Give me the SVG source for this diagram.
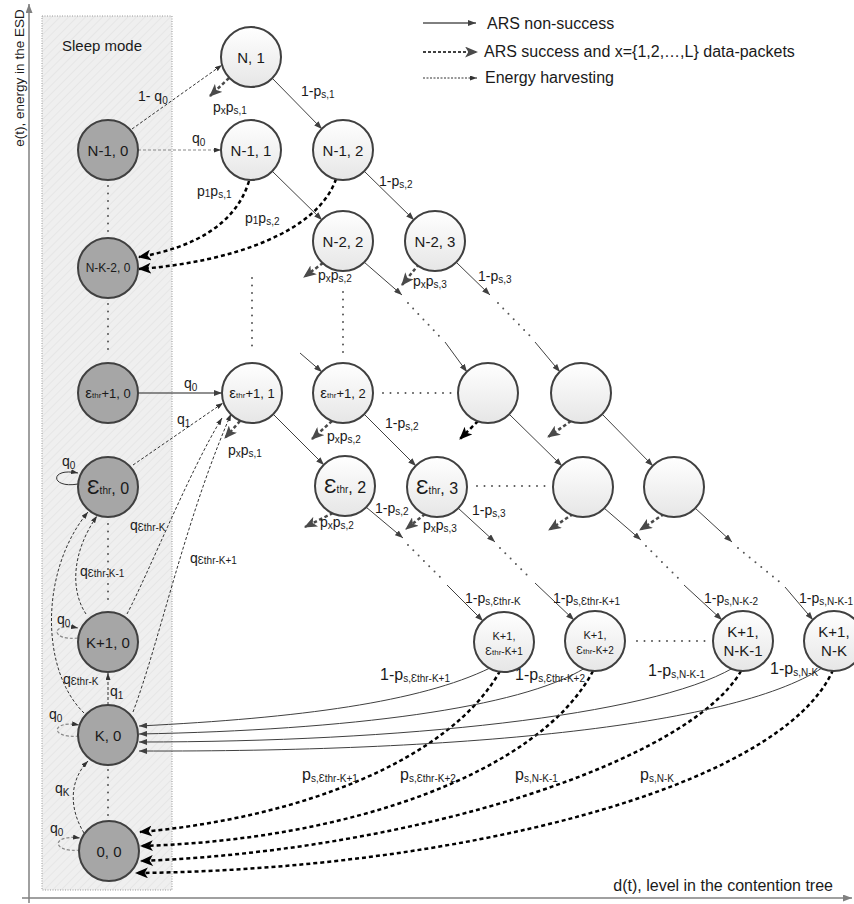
<svg xmlns="http://www.w3.org/2000/svg" width="854" height="904" viewBox="0 0 854 904">
<defs>
<linearGradient id="gw" x1="0" y1="0" x2="0" y2="1"><stop offset="0" stop-color="#ffffff"/><stop offset="1" stop-color="#e6e6e6"/></linearGradient>
<pattern id="hatch" width="6" height="6" patternUnits="userSpaceOnUse" patternTransform="rotate(45)"><rect width="6" height="6" fill="#efefef"/><line x1="0" y1="0" x2="0" y2="6" stroke="#e6e6e6" stroke-width="2"/></pattern>
<marker id="a" viewBox="0 0 8 6" refX="8" refY="3" markerWidth="8" markerHeight="6" markerUnits="userSpaceOnUse" orient="auto"><path d="M0,0L8,3L0,6z" fill="#404040"/></marker>
<marker id="ab" viewBox="0 0 12 10" refX="11" refY="5" markerWidth="13" markerHeight="11" markerUnits="userSpaceOnUse" orient="auto"><path d="M0,0L12,5L0,10L3,5z" fill="#4a4a4a"/></marker>
<marker id="ak" viewBox="0 0 12 10" refX="11" refY="5" markerWidth="13" markerHeight="11" markerUnits="userSpaceOnUse" orient="auto"><path d="M0,0L12,5L0,10L3,5z" fill="#000"/></marker>
<marker id="ae" viewBox="0 0 7 5" refX="7" refY="2.5" markerWidth="7" markerHeight="5" markerUnits="userSpaceOnUse" orient="auto"><path d="M0,0L7,2.5L0,5z" fill="#333"/></marker>
<marker id="ax" viewBox="0 0 9 7" refX="9" refY="3.5" markerWidth="9" markerHeight="7" markerUnits="userSpaceOnUse" orient="auto"><path d="M0,0L9,3.5L0,7z" fill="#808080"/></marker>
<style>
text{font-family:"Liberation Sans",Arial,sans-serif;fill:#1a1a1a}
.n{stroke:#404040;stroke-width:2}
.g{fill:#a6a6a6}
.w{fill:url(#gw)}
.nt{font-size:15px;text-anchor:middle}
.l{font-size:14px}
.lb{font-size:16px}
.lg{font-size:16px}
.sub{font-size:10px}
.s{stroke:#404040;stroke-width:1;fill:none;marker-end:url(#a)}
.d{stroke:#4a4a4a;stroke-width:2.5;stroke-dasharray:3.5 2.5;fill:none;marker-end:url(#ab)}
.dk{stroke:#000;stroke-width:2.5;stroke-dasharray:4 3;fill:none;marker-end:url(#ak)}
.e{stroke:#333;stroke-width:1;stroke-dasharray:3 2;fill:none;marker-end:url(#ae)}
.eg{stroke:#888;stroke-width:1.2;stroke-dasharray:3 2;fill:none;marker-end:url(#ae)}
.dot{stroke:#555;stroke-width:2;stroke-linecap:round;stroke-dasharray:0 7.5;fill:none}
</style>
</defs>
<rect width="854" height="904" fill="#fff"/>
<!-- sleep mode area -->
<rect x="42" y="16" width="130" height="874" fill="url(#hatch)" stroke="#999" stroke-width="1" stroke-dasharray="1 1.5"/>
<text x="62" y="51" style="font-size:15px">Sleep mode</text>
<!-- axes -->
<g id="axes">
<line x1="29" y1="903" x2="29" y2="4" stroke="#808080" stroke-width="1.5" marker-end="url(#ax)"/>
<line x1="22" y1="898" x2="852" y2="898" stroke="#808080" stroke-width="1.5" marker-end="url(#ax)"/>
<text transform="translate(24,78) rotate(-90)" style="font-size:13.5px;text-anchor:middle">e(t), energy in the ESD</text>
<text x="833" y="891" style="font-size:16px;text-anchor:end">d(t), level in the contention tree</text>
</g>
<!-- legend -->
<g id="legend">
<line x1="423" y1="23" x2="476" y2="23" stroke="#000" stroke-width="1" marker-end="url(#a)"/>
<text class="lg" x="487" y="29">ARS non-success</text>
<line x1="423" y1="52" x2="477" y2="52" stroke="#404040" stroke-width="2" stroke-dasharray="3 2" marker-end="url(#ab)"/>
<text class="lg" x="484" y="57">ARS success and x={1,2,…,L} data-packets</text>
<line x1="423" y1="78" x2="477" y2="78" stroke="#333" stroke-width="1" stroke-dasharray="2 1.5" marker-end="url(#ae)"/>
<text class="lg" x="485" y="83">Energy harvesting</text>
</g>
<!-- connectors -->
<g id="connectors">
<path class="s" d="M272,78L322,129"/>
<path class="s" d="M272,171L322,220"/>
<path class="s" d="M364,171L414,220"/>
<path class="s" d="M364,262L402,295"/>
<path class="s" d="M456,262L490,295"/>
<path class="dot" d="M408,303L440,337"/>
<path class="s" d="M445,342L467,372"/>
<path class="dot" d="M498,303L530,336"/>
<path class="s" d="M535,342L560,372"/>
<path class="s" d="M300,353L322,372"/>
<path class="s" d="M273,414L324,465"/>
<path class="s" d="M364,414L416,466"/>
<path class="s" d="M509,414L562,466"/>
<path class="s" d="M602,414L653,466"/>
<path class="s" d="M366,507L403,538"/>
<path class="s" d="M458,508L495,542"/>
<path class="s" d="M604,508L641,540"/>
<path class="s" d="M695,508L732,542"/>
<path class="dot" d="M408,545L443,580"/>
<path class="s" d="M447,585L483,621"/>
<path class="dot" d="M500,548L531,579"/>
<path class="s" d="M535,583L574,620"/>
<path class="dot" d="M646,546L680,580"/>
<path class="s" d="M684,585L722,620"/>
<path class="dot" d="M738,548L781,583"/>
<path class="s" d="M785,587L813,620"/>
<path class="dot" d="M108,186L108,232"/>
<path class="dot" d="M108,304L108,354"/>
<path class="dot" d="M108,524L108,604"/>
<path class="dot" d="M108,770L108,816"/>
<path class="dot" d="M252,278L252,352"/>
<path class="dot" d="M343,292L343,356"/>
<path class="dot" d="M383,393L452,393"/>
<path class="dot" d="M477,486L547,486"/>
<path class="dot" d="M637,641L707,641"/>
<path class="d" d="M229,78L210,96"/>
<path class="d" d="M323,263L304,277"/>
<path class="d" d="M419,264L402,285"/>
<path class="d" d="M240,421L225,438"/>
<path class="d" d="M332,421L312,439"/>
<path class="dk" d="M478,421L460,439"/>
<path class="d" d="M571,421L548,437"/>
<path class="d" d="M333,513L305,527"/>
<path class="d" d="M425,514L406,529"/>
<path class="d" d="M573,514L549,530"/>
<path class="d" d="M664,514L640,530"/>
<path class="dk" d="M249,181C236,225 192,248 139,257"/>
<path class="dk" d="M336,179C318,232 232,262 139,269"/>
<path class="dk" d="M500,671C450,760 300,818 140,832"/>
<path class="dk" d="M593,671C540,772 350,840 141,846"/>
<path class="dk" d="M741,671C690,760 420,850 141,861"/>
<path class="dk" d="M833,670C780,790 450,870 136,873"/>
<path class="s" d="M490,668C420,702 300,718 139,726"/>
<path class="s" d="M585,668C520,708 350,730 139,734"/>
<path class="s" d="M733,668C650,716 400,742 139,742"/>
<path class="s" d="M822,668C730,728 450,752 139,751"/>
<path class="e" d="M132,129L222,65"/>
<path class="eg" d="M138,150L221,150"/>
<path d="M138,393L222,393" stroke="#222" stroke-width="1.2" fill="none" marker-end="url(#a)"/>
<path class="e" d="M133,465L223,403"/>
<path d="M78,484C50,489 49,467 78,473" stroke="#333" stroke-width="1" fill="none" marker-end="url(#ae)"/>
<path class="eg" d="M78,638C50,641 50,622 78,628"/>
<path class="eg" d="M79,736C50,739 50,720 79,725"/>
<path class="eg" d="M80,850C51,853 51,834 80,838"/>
<path class="e" d="M108,705L108,673"/>
<path class="e" d="M84,833C70,810 68,782 88,761"/>
<path class="e" d="M86,614C70,590 72,552 97,516"/>
<path class="e" d="M84,713C40,670 40,570 88,512"/>
<path class="e" d="M127,614C150,570 190,470 222,418"/>
<path class="e" d="M133,712C160,640 185,520 231,414"/>
</g>
<g id="labels">
<text class="l" x="138" y="101">1- q<tspan class="sub" dy="3">0</tspan></text>
<text class="l" x="192" y="143">q<tspan class="sub" dy="3">0</tspan></text>
<text class="l" x="213" y="112">p<tspan class="sub" dy="2">x</tspan><tspan dy="-2">p</tspan><tspan class="sub" dy="2">s,1</tspan></text>
<text class="l" x="301" y="96">1-p<tspan class="sub" dy="2">s,1</tspan></text>
<text class="l" x="197" y="196">p<tspan class="sub" dy="1">1</tspan><tspan dy="-1">p</tspan><tspan class="sub" dy="2">s,1</tspan></text>
<text class="l" x="245" y="223">p<tspan class="sub" dy="1">1</tspan><tspan dy="-1">p</tspan><tspan class="sub" dy="2">s,2</tspan></text>
<text class="l" x="379" y="186">1-p<tspan class="sub" dy="2">s,2</tspan></text>
<text class="l" x="318" y="280">p<tspan class="sub" dy="2">x</tspan><tspan dy="-2">p</tspan><tspan class="sub" dy="2">s,2</tspan></text>
<text class="l" x="413" y="286">p<tspan class="sub" dy="2">x</tspan><tspan dy="-2">p</tspan><tspan class="sub" dy="2">s,3</tspan></text>
<text class="l" x="478" y="281">1-p<tspan class="sub" dy="2">s,3</tspan></text>
<text class="l" x="184" y="388">q<tspan class="sub" dy="3">0</tspan></text>
<text class="l" x="177" y="424">q<tspan class="sub" dy="3">1</tspan></text>
<text class="l" x="228" y="455">p<tspan class="sub" dy="2">x</tspan><tspan dy="-2">p</tspan><tspan class="sub" dy="2">s,1</tspan></text>
<text class="l" x="327" y="441">p<tspan class="sub" dy="2">x</tspan><tspan dy="-2">p</tspan><tspan class="sub" dy="2">s,2</tspan></text>
<text class="l" x="385" y="428">1-p<tspan class="sub" dy="2">s,2</tspan></text>
<text class="l" x="320" y="527">p<tspan class="sub" dy="2">x</tspan><tspan dy="-2">p</tspan><tspan class="sub" dy="2">s,2</tspan></text>
<text class="l" x="375" y="513">1-p<tspan class="sub" dy="2">s,2</tspan></text>
<text class="l" x="423" y="530">p<tspan class="sub" dy="2">x</tspan><tspan dy="-2">p</tspan><tspan class="sub" dy="2">s,3</tspan></text>
<text class="l" x="472" y="515">1-p<tspan class="sub" dy="2">s,3</tspan></text>
<text class="l" x="62" y="466">q<tspan class="sub" dy="3">0</tspan></text>
<text class="l" x="57" y="624">q<tspan class="sub" dy="3">0</tspan></text>
<text class="l" x="49" y="719">q<tspan class="sub" dy="3">0</tspan></text>
<text class="l" x="50" y="833">q<tspan class="sub" dy="3">0</tspan></text>
<text class="l" x="110" y="696">q<tspan class="sub" dy="3">1</tspan></text>
<text class="l" x="55" y="793">q<tspan class="sub" dy="3">K</tspan></text>
<text class="l" x="130" y="530">q<tspan class="sub" dy="1">Ɛthr-K</tspan></text>
<text class="l" x="190" y="563">q<tspan class="sub" dy="1">Ɛthr-K+1</tspan></text>
<text class="l" x="80" y="576">q<tspan class="sub" dy="1">Ɛthr-K-1</tspan></text>
<text class="l" x="63" y="684">q<tspan class="sub" dy="1">Ɛthr-K</tspan></text>
<text class="l" x="465" y="603">1-p<tspan class="sub" dy="2">s,Ɛthr-K</tspan></text>
<text class="l" x="553" y="603">1-p<tspan class="sub" dy="2">s,Ɛthr-K+1</tspan></text>
<text class="l" x="704" y="603">1-p<tspan class="sub" dy="2">s,N-K-2</tspan></text>
<text class="l" x="799" y="603">1-p<tspan class="sub" dy="2">s,N-K-1</tspan></text>
<text class="lb" x="380" y="680">1-p<tspan class="sub" dy="2">s,Ɛthr-K+1</tspan></text>
<text class="lb" x="515" y="680">1-p<tspan class="sub" dy="2">s,Ɛthr-K+2</tspan></text>
<text class="lb" x="648" y="676">1-p<tspan class="sub" dy="2">s,N-K-1</tspan></text>
<text class="lb" x="770" y="674">1-p<tspan class="sub" dy="2">s,N-K</tspan></text>
<text class="lb" x="302" y="780">p<tspan class="sub" dy="2">s,Ɛthr-K+1</tspan></text>
<text class="lb" x="400" y="780">p<tspan class="sub" dy="2">s,Ɛthr-K+2</tspan></text>
<text class="lb" x="515" y="780">p<tspan class="sub" dy="2">s,N-K-1</tspan></text>
<text class="lb" x="640" y="780">p<tspan class="sub" dy="2">s,N-K</tspan></text>
</g>
<g id="n_N-1_0"><circle class="n g" cx="108" cy="150" r="30"/><text class="nt" x="108" y="156">N-1, 0</text></g>
<g id="n_N-K-2_0"><circle class="n g" cx="108" cy="268" r="30"/><text class="nt" x="108" y="272" style="font-size:12px">N-K-2, 0</text></g>
<g id="n_eps1_0"><circle class="n g" cx="108" cy="393" r="30"/><text class="nt" x="108" y="398"><tspan style="font-size:15px">ε</tspan><tspan style="font-size:8px">thr</tspan><tspan style="font-size:13px">+1, 0</tspan></text></g>
<g id="n_eps_0"><circle class="n g" cx="108" cy="487" r="30"/><text class="nt" x="108" y="494"><tspan style="font-size:21px">Ɛ</tspan><tspan style="font-size:10px">thr</tspan><tspan style="font-size:16px">, 0</tspan></text></g>
<g id="n_K1_0"><circle class="n g" cx="108" cy="642" r="30"/><text class="nt" x="108" y="648">K+1, 0</text></g>
<g id="n_K_0"><circle class="n g" cx="108" cy="735" r="30"/><text class="nt" x="108" y="741">K, 0</text></g>
<g id="n_0_0"><circle class="n g" cx="109" cy="851" r="30"/><text class="nt" x="109" y="857">0, 0</text></g>
<g id="n_N_1"><circle class="n w" cx="251" cy="57" r="30"/><text class="nt" x="251" y="63">N, 1</text></g>
<g id="n_N-1_1"><circle class="n w" cx="251" cy="150" r="30"/><text class="nt" x="251" y="156">N-1, 1</text></g>
<g id="n_N-1_2"><circle class="n w" cx="343" cy="150" r="30"/><text class="nt" x="343" y="156">N-1, 2</text></g>
<g id="n_N-2_2"><circle class="n w" cx="343" cy="241" r="30"/><text class="nt" x="343" y="247">N-2, 2</text></g>
<g id="n_N-2_3"><circle class="n w" cx="435" cy="241" r="30"/><text class="nt" x="435" y="247">N-2, 3</text></g>
<g id="n_eps1_1"><circle class="n w" cx="252" cy="393" r="30"/><text class="nt" x="252" y="398"><tspan style="font-size:15px">ε</tspan><tspan style="font-size:8px">thr</tspan><tspan style="font-size:13px">+1, 1</tspan></text></g>
<g id="n_eps1_2"><circle class="n w" cx="343" cy="393" r="30"/><text class="nt" x="343" y="398"><tspan style="font-size:15px">ε</tspan><tspan style="font-size:8px">thr</tspan><tspan style="font-size:13px">+1, 2</tspan></text></g>
<g id="n_blank1"><circle class="n w" cx="488" cy="393" r="30"/></g>
<g id="n_blank2"><circle class="n w" cx="581" cy="393" r="30"/></g>
<g id="n_eps_2"><circle class="n w" cx="345" cy="486" r="30"/><text class="nt" x="345" y="493"><tspan style="font-size:21px">Ɛ</tspan><tspan style="font-size:10px">thr</tspan><tspan style="font-size:16px">, 2</tspan></text></g>
<g id="n_eps_3"><circle class="n w" cx="437" cy="487" r="30"/><text class="nt" x="437" y="494"><tspan style="font-size:21px">Ɛ</tspan><tspan style="font-size:10px">thr</tspan><tspan style="font-size:16px">, 3</tspan></text></g>
<g id="n_blank3"><circle class="n w" cx="583" cy="487" r="30"/></g>
<g id="n_blank4"><circle class="n w" cx="674" cy="487" r="30"/></g>
<g id="n_K1_a"><circle class="n w" cx="504" cy="642" r="30"/><text class="nt" x="504" y="640" style="font-size:11px">K+1,</text><text class="nt" x="504" y="655"><tspan style="font-size:11px">Ɛ</tspan><tspan style="font-size:8px">thr</tspan><tspan style="font-size:10px">-K+1</tspan></text></g>
<g id="n_K1_b"><circle class="n w" cx="595" cy="641" r="30"/><text class="nt" x="595" y="639" style="font-size:11px">K+1,</text><text class="nt" x="595" y="654"><tspan style="font-size:11px">Ɛ</tspan><tspan style="font-size:8px">thr</tspan><tspan style="font-size:10px">-K+2</tspan></text></g>
<g id="n_K1_NK1"><circle class="n w" cx="743" cy="641" r="30"/><text class="nt" x="743" y="637">K+1,</text><text class="nt" x="743" y="656">N-K-1</text></g>
<g id="n_K1_NK"><circle class="n w" cx="834" cy="641" r="30"/><text class="nt" x="834" y="637">K+1,</text><text class="nt" x="834" y="656">N-K</text></g>
</svg>
